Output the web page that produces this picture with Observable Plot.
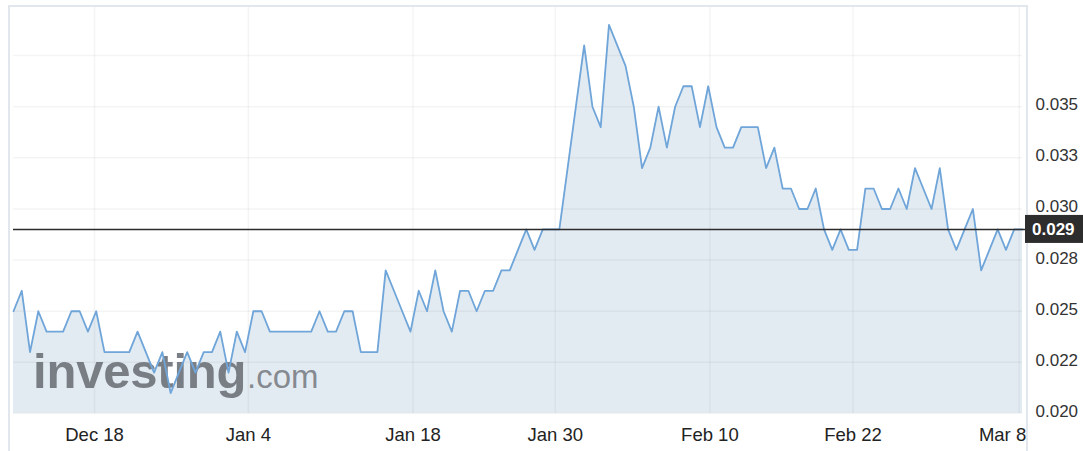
<!DOCTYPE html>
<html>
<head>
<meta charset="utf-8">
<script src="https://cdn.jsdelivr.net/npm/d3@7"></script>
<script src="https://cdn.jsdelivr.net/npm/@observablehq/plot@0.6"></script>
<style>
  html, body { margin: 0; padding: 0; background: #fff; }
  #chart { width: 1083px; height: 451px; overflow: hidden; }
</style>
</head>
<body>
<div id="chart"></div>
<script>
// Closing prices, one per session
const prices = [
  0.025, 0.026, 0.023, 0.025, 0.024, 0.024, 0.024, 0.025, 0.025, 0.024,
  0.025, 0.023, 0.023, 0.023, 0.023, 0.024, 0.023, 0.022, 0.023, 0.021,
  0.022, 0.023, 0.022, 0.023, 0.023, 0.024, 0.022, 0.024, 0.023, 0.025,
  0.025, 0.024, 0.024, 0.024, 0.024, 0.024, 0.024, 0.025, 0.024, 0.024,
  0.025, 0.025, 0.023, 0.023, 0.023, 0.027, 0.026, 0.025, 0.024, 0.026,
  0.025, 0.027, 0.025, 0.024, 0.026, 0.026, 0.025, 0.026, 0.026, 0.027,
  0.027, 0.028, 0.029, 0.028, 0.029, 0.029, 0.029, 0.032, 0.035, 0.038,
  0.035, 0.034, 0.039, 0.038, 0.037, 0.035, 0.032, 0.033, 0.035, 0.033,
  0.035, 0.036, 0.036, 0.034, 0.036, 0.034, 0.033, 0.033, 0.034, 0.034,
  0.034, 0.032, 0.033, 0.031, 0.031, 0.030, 0.030, 0.031, 0.029, 0.028,
  0.029, 0.028, 0.028, 0.031, 0.031, 0.030, 0.030, 0.031, 0.030, 0.032,
  0.031, 0.030, 0.032, 0.029, 0.028, 0.029, 0.030, 0.027, 0.028, 0.029,
  0.028, 0.029, 0.029
];
// x-axis ticks (session position of each date label)
const xTickPos = [9.8, 28.4, 48.3, 65.5, 84.2, 101.5, 121.6];
const xTickLabels = ["Dec 18", "Jan 4", "Jan 18", "Jan 30", "Feb 10", "Feb 22", "Mar 8"];
// y-axis ticks
const yTicks = [0.020, 0.0225, 0.025, 0.0275, 0.030, 0.0325, 0.035];
const yTickLabels = ["0.020", "0.022", "0.025", "0.028", "0.030", "0.033", "0.035"];
const yGrid = [0.020, 0.0225, 0.025, 0.0275, 0.030, 0.0325, 0.035, 0.0375];
const lastPrice = 0.029;
const lastPriceLabel = "0.029";

(function () {
  const data = prices.map((v, i) => ({i, v}));
  const nLast = xTickPos.length - 1;

  const chart = Plot.plot({
    width: 1083,
    height: 451,
    marginLeft: 13,
    marginRight: 61,
    marginTop: 6,
    marginBottom: 38,
    x: {domain: [0, prices.length - 1], axis: null},
    y: {domain: [0.020, 0.0399], axis: null},
    style: {fontFamily: "'Liberation Sans', Arial, Helvetica, sans-serif", background: "#fff", overflow: "visible"},
    marks: [
      Plot.areaY(data, {x: "i", y1: 0.020, y2: "v", fill: "#e3ebf2"}),
      Plot.ruleY(yGrid, {stroke: "#000", strokeOpacity: 0.045, strokeWidth: 1.5}),
      Plot.ruleX(xTickPos, {stroke: "#000", strokeOpacity: 0.045, strokeWidth: 1.5}),
      Plot.lineY(data, {x: "i", y: "v", stroke: "#6fa5d9", strokeWidth: 1.8}),
      Plot.ruleY([lastPrice], {stroke: "#2b2b2b", strokeWidth: 1.6, insetRight: -4}),
      Plot.text(yTicks, {
        y: d => d, text: (d, i) => yTickLabels[i], frameAnchor: "right",
        textAnchor: "start", dx: 13, dy: -2, fontSize: 17, fill: "#333"
      }),
      Plot.text(xTickPos.slice(0, nLast), {
        x: d => d, text: (d, i) => xTickLabels[i], frameAnchor: "bottom",
        dy: 27, fontSize: 18.5, fill: "#222"
      }),
      Plot.text([xTickPos[nLast]], {
        x: d => d, text: () => xTickLabels[nLast], frameAnchor: "bottom",
        textAnchor: "end", dx: 7, dy: 27, fontSize: 18.5, fill: "#222"
      })
    ]
  });

  document.getElementById("chart").appendChild(chart);

  // decorations positioned from the plot's own scales
  const sx = chart.scale("x"), sy = chart.scale("y");
  const svg = d3.select(chart);
  const xL = sx.range[0], xR = sx.range[1];
  const yT = sy.range[1], yB = sy.range[0];

  // frame border
  svg.append("path")
    .attr("d", `M${xL - 4},451 V${yT} H${xR + 5} V451`)
    .attr("fill", "none").attr("stroke", "#e2e7ee").attr("stroke-width", 2);

  // watermark (under the line)
  const lineG = chart.querySelector('g[aria-label="line"]');
  const wm = document.createElementNS("http://www.w3.org/2000/svg", "g");
  chart.insertBefore(wm, lineG);
  const wmg = d3.select(wm).attr("text-anchor", "start");
  wmg.append("text").text("investing")
    .attr("x", xL + 20).attr("y", yB - 25)
    .attr("font-size", 49).attr("font-weight", "bold").attr("letter-spacing", -0.2)
    .attr("fill", "#70747b").attr("fill-opacity", 0.92);
  wmg.append("text").text(".com")
    .attr("x", xL + 234).attr("y", yB - 25)
    .attr("font-size", 33)
    .attr("fill", "#7c8187").attr("fill-opacity", 0.92);

  // last price box
  const yp = sy.apply(lastPrice);
  svg.append("rect")
    .attr("x", xR + 3).attr("y", yp - 14).attr("width", 58).attr("height", 28)
    .attr("fill", "#2d2d2d");
  svg.append("text").text(lastPriceLabel)
    .attr("text-anchor", "start")
    .attr("x", xR + 10).attr("y", yp).attr("dy", "0.35em")
    .attr("font-size", 17).attr("font-weight", "bold").attr("fill", "#fff");
})();
</script>
</body>
</html>
